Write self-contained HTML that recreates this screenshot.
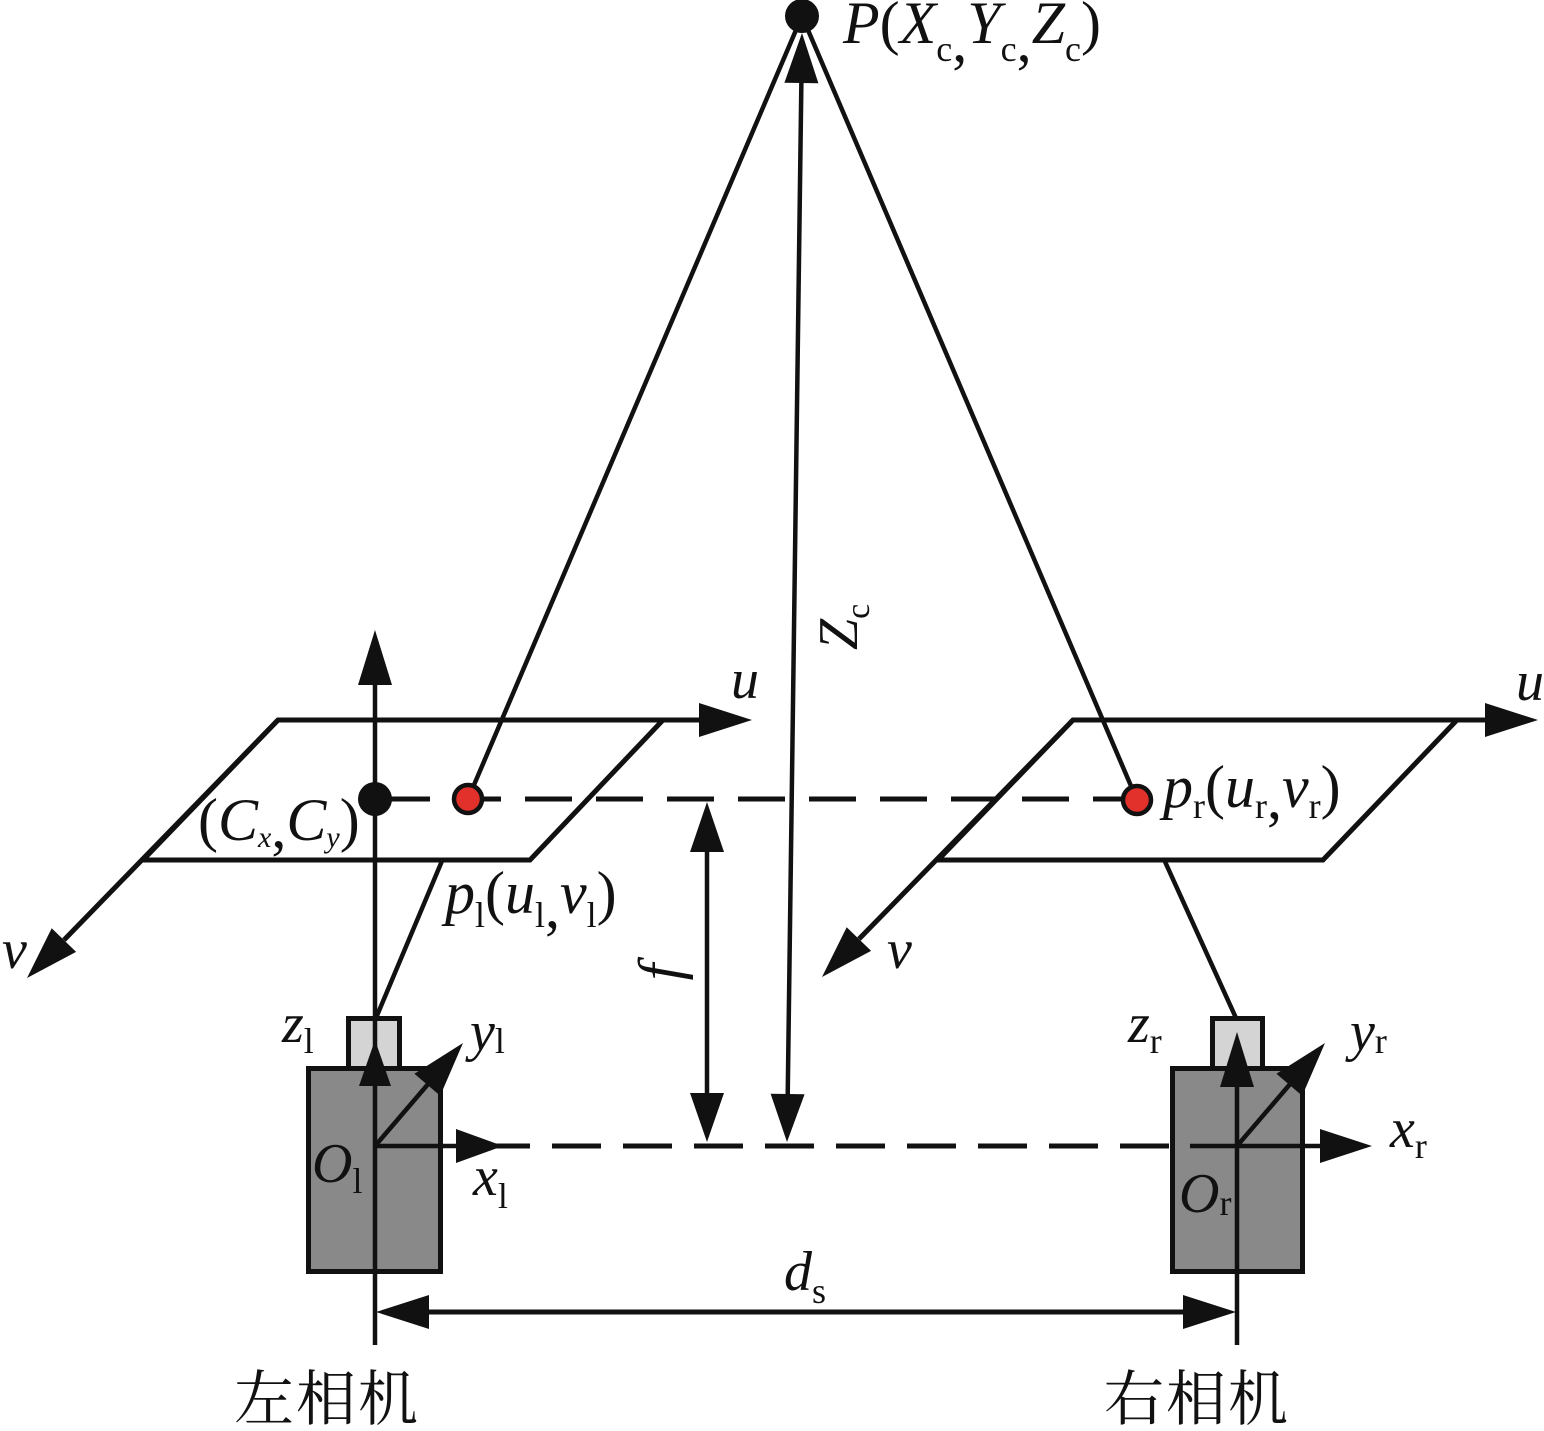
<!DOCTYPE html>
<html>
<head>
<meta charset="utf-8">
<style>
html,body{margin:0;padding:0;background:#fff;}
svg{display:block;}
svg text{font-family:"Liberation Serif","Times New Roman",Times,serif;fill:#111;}
svg text.cjk{font-family:"Liberation Serif","Noto Serif CJK SC","Noto Sans CJK SC",serif;}
</style>
</head>
<body>
<svg width="1544" height="1431" viewBox="0 0 1544 1431" xmlns="http://www.w3.org/2000/svg" font-family="Liberation Serif, Times New Roman, serif">
  <rect x="0" y="0" width="1544" height="1431" fill="#fff"/>

  <!-- lens lines below planes -->
  <g stroke="#111" stroke-width="4.5" fill="none">
    <line x1="468" y1="799" x2="376" y2="1018"/>
    <line x1="1137" y1="800" x2="1236" y2="1018"/>
  </g>

  <!-- image planes -->
  <polygon points="278,720 663,720 530,860 143,860" fill="#fff" stroke="#111" stroke-width="5" stroke-linejoin="miter"/>
  <polygon points="1073,720 1457,720 1323,860 938,860" fill="#fff" stroke="#111" stroke-width="5" stroke-linejoin="miter"/>

  <!-- u axes -->
  <g stroke="#111" stroke-width="5">
    <line x1="660" y1="720" x2="702" y2="720"/>
    <line x1="1455" y1="720" x2="1488" y2="720"/>
  </g>
  <polygon points="752,720 699,703 699,737" fill="#111"/>
  <polygon points="1538,720 1485,703 1485,737" fill="#111"/>

  <!-- v axes -->
  <g stroke="#111" stroke-width="5">
    <line x1="278" y1="720" x2="64" y2="940"/>
    <line x1="1073" y1="720" x2="859" y2="939"/>
  </g>
  <polygon points="27,978 76.1,951.9 51.7,928.2" fill="#111"/>
  <polygon points="822,977 871.1,950.9 846.7,927.3" fill="#111"/>

  <!-- left optical axis -->
  <line x1="375" y1="682" x2="375" y2="1018" stroke="#111" stroke-width="4.5"/>
  <polygon points="375,630 358,685 392,685" fill="#111"/>

  <!-- lines from P to image points -->
  <g stroke="#111" stroke-width="4.5">
    <line x1="802" y1="16" x2="468" y2="799"/>
    <line x1="802" y1="16" x2="1137" y2="800"/>
  </g>

  <!-- dashed epipolar line -->
  <line x1="383" y1="799" x2="1137" y2="799" stroke="#111" stroke-width="5" stroke-dasharray="47 24"/>

  <!-- points -->
  <circle cx="375" cy="799" r="17" fill="#111"/>
  <circle cx="468" cy="799" r="14" fill="#e2312b" stroke="#111" stroke-width="4.5"/>
  <circle cx="1137" cy="800" r="14" fill="#e2312b" stroke="#111" stroke-width="4.5"/>
  <circle cx="802" cy="16" r="17" fill="#111"/>

  <!-- Zc arrow -->
  <line x1="801.4" y1="80" x2="787.7" y2="1096" stroke="#111" stroke-width="4.5"/>
  <polygon points="802,33 818.4,83.2 784.4,82.8" fill="#111"/>
  <polygon points="787,1142 804.6,1094.2 770.6,1093.8" fill="#111"/>

  <!-- f arrow -->
  <line x1="707" y1="848" x2="707" y2="1096" stroke="#111" stroke-width="4.5"/>
  <polygon points="707,802 690,852 724,852" fill="#111"/>
  <polygon points="707,1142 690,1093 724,1093" fill="#111"/>

  <!-- bottom dashed baseline -->
  <line x1="481" y1="1146" x2="1169" y2="1146" stroke="#111" stroke-width="5" stroke-dasharray="49 22"/>

  <!-- left camera -->
  <rect x="308.5" y="1068.5" width="132" height="203" fill="#898989" stroke="#111" stroke-width="5"/>
  <rect x="348.5" y="1018.5" width="51" height="50" fill="#d4d4d4" stroke="#111" stroke-width="5"/>
  <!-- right camera -->
  <rect x="1172.5" y="1068.5" width="130" height="203" fill="#898989" stroke="#111" stroke-width="5"/>
  <rect x="1212.5" y="1018.5" width="50" height="50" fill="#d4d4d4" stroke="#111" stroke-width="5"/>

  <!-- left camera axes -->
  <g stroke="#111" stroke-width="4.5">
    <line x1="375" y1="1018" x2="375" y2="1345"/>
    <line x1="375" y1="1146" x2="530" y2="1146"/>
    <line x1="375" y1="1146" x2="429" y2="1083"/>
  </g>
  <polygon points="375,1040 359,1086 391,1086" fill="#111"/>
  <polygon points="503,1146 456,1129 456,1163" fill="#111"/>
  <polygon points="463,1043 440.2,1095.8 414.4,1073.8" fill="#111"/>

  <!-- right camera axes -->
  <g stroke="#111" stroke-width="4.5">
    <line x1="1237" y1="1080" x2="1237" y2="1345"/>
    <line x1="1190" y1="1146" x2="1325" y2="1146"/>
    <line x1="1237" y1="1146" x2="1291" y2="1083"/>
  </g>
  <polygon points="1237,1032 1220,1087 1254,1087" fill="#111"/>
  <polygon points="1372,1146 1320,1129 1320,1163" fill="#111"/>
  <polygon points="1325,1043 1302.2,1095.8 1276.4,1073.8" fill="#111"/>

  <!-- ds dimension -->
  <line x1="420" y1="1312" x2="1192" y2="1312" stroke="#111" stroke-width="5"/>
  <polygon points="376,1312 429,1295 429,1329" fill="#111"/>
  <polygon points="1236,1312 1183,1295 1183,1329" fill="#111"/>

  <!-- labels -->
  <text x="843" y="43" font-size="60"><tspan font-style="italic">P</tspan>(<tspan font-style="italic">X</tspan><tspan font-size="36" dy="18">c</tspan><tspan dy="0">,</tspan><tspan font-style="italic" dy="-18">Y</tspan><tspan font-size="36" dy="18">c</tspan><tspan>,</tspan><tspan font-style="italic" dy="-18">Z</tspan><tspan font-size="36" dy="18">c</tspan><tspan dy="-18">)</tspan></text>

  <text x="198" y="840" font-size="60">(<tspan font-style="italic">C</tspan><tspan font-style="italic" font-size="30" dy="7">x</tspan><tspan>,</tspan><tspan font-style="italic" dy="-7">C</tspan><tspan font-style="italic" font-size="30" dy="7">y</tspan><tspan dy="-7">)</tspan></text>

  <text x="445" y="913" font-size="60"><tspan font-style="italic">p</tspan><tspan font-size="36" dy="14">l</tspan><tspan dy="-14">(</tspan><tspan font-style="italic">u</tspan><tspan font-size="36" dy="14">l</tspan><tspan>,</tspan><tspan font-style="italic" dy="-14">v</tspan><tspan font-size="36" dy="14">l</tspan><tspan dy="-14">)</tspan></text>

  <text x="1163" y="807" font-size="60"><tspan font-style="italic">p</tspan><tspan font-size="36" dy="11">r</tspan><tspan dy="-11">(</tspan><tspan font-style="italic">u</tspan><tspan font-size="36" dy="11">r</tspan><tspan>,</tspan><tspan font-style="italic" dy="-11">v</tspan><tspan font-size="36" dy="11">r</tspan><tspan dy="-11">)</tspan></text>

  <text x="731" y="698" font-size="56" font-style="italic">u</text>
  <text x="1516" y="700" font-size="56" font-style="italic">u</text>
  <text x="2" y="968" font-size="56" font-style="italic">v</text>
  <text x="887" y="968" font-size="56" font-style="italic">v</text>

  <text x="282" y="1042" font-size="56"><tspan font-style="italic">z</tspan><tspan font-size="36" dy="11">l</tspan></text>
  <text x="470" y="1050" font-size="56"><tspan font-style="italic">y</tspan><tspan font-size="36" dy="3">l</tspan></text>
  <text x="473" y="1195" font-size="56"><tspan font-style="italic">x</tspan><tspan font-size="36" dy="13">l</tspan></text>
  <text x="312" y="1182" font-size="56"><tspan font-style="italic">O</tspan><tspan font-size="36" dy="11">l</tspan></text>

  <text x="1128" y="1042" font-size="56"><tspan font-style="italic">z</tspan><tspan font-size="36" dy="11">r</tspan></text>
  <text x="1350" y="1050" font-size="56"><tspan font-style="italic">y</tspan><tspan font-size="36" dy="3">r</tspan></text>
  <text x="1390" y="1147" font-size="56"><tspan font-style="italic">x</tspan><tspan font-size="36" dy="11">r</tspan></text>
  <text x="1179" y="1212" font-size="56"><tspan font-style="italic">O</tspan><tspan font-size="36" dy="3">r</tspan></text>

  <text x="784" y="1290" font-size="56"><tspan font-style="italic">d</tspan><tspan font-size="36" dy="13">s</tspan></text>

  <text transform="translate(680,972) rotate(-90)" text-anchor="middle" font-size="60" font-style="italic">f</text>
  <text transform="translate(857,650) rotate(-90)" font-size="56"><tspan font-style="italic">Z</tspan><tspan font-size="34" dy="12">c</tspan></text>

  <text class="cjk" x="234" y="1420" font-size="60" letter-spacing="2">左相机</text>
  <text class="cjk" x="1104" y="1420" font-size="60" letter-spacing="2">右相机</text>
</svg>
</body>
</html>
